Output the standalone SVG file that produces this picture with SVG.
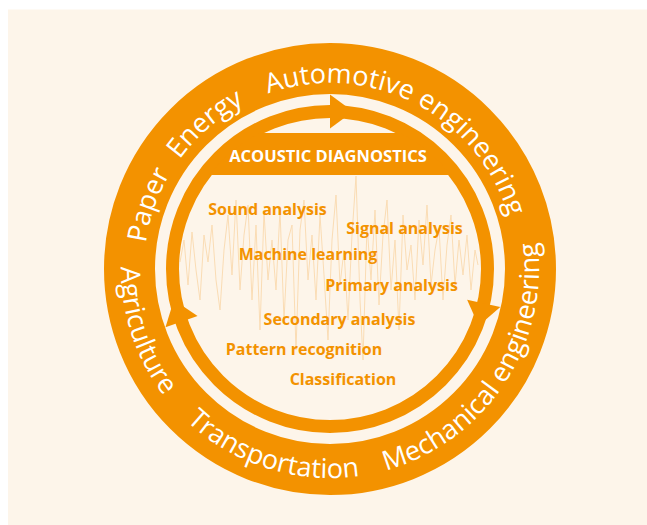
<svg xmlns="http://www.w3.org/2000/svg" xmlns:xlink="http://www.w3.org/1999/xlink" width="647" height="525" viewBox="0 0 647 525">
  <style>
    .ring { fill: none; stroke: #f39200; }
    .ringtext { font-family: "Open Sans", "Noto Sans", "DejaVu Sans", sans-serif; font-size: 27px; fill: #ffffff; font-weight: 400; }
    .label { font-family: "Open Sans", "Noto Sans", "DejaVu Sans", sans-serif; font-size: 16px; font-weight: 700; fill: #f39200; text-anchor: middle; }
    .banner-text { font-family: "Open Sans", "Noto Sans", "DejaVu Sans", sans-serif; font-size: 16.5px; font-weight: 700; fill: #ffffff; text-anchor: middle; }
    .wave { fill: none; stroke: #fadcb4; stroke-width: 1; stroke-linejoin: round; }
    .arrowhead { fill: #f39200; }
  </style>
  <defs>
    <path id="upperPath" d="M 144 269 A 186 186 0 1 1 516 269 A 186 186 0 1 1 144 269"/>
    <path id="lowerPath" d="M 133.6 197.5 A 209 209 0 1 0 526.4 340.5 A 209 209 0 1 0 133.6 197.5"/>
    <polygon id="arrow" points="330,94.5 353,111.5 330,128.5"/>
  </defs>

  <rect id="background" x="8" y="9.5" width="639" height="515.5" fill="#fdf5ea"/>

  <g id="waveform">
    <polyline class="wave" points="180,262 184,240 188,285 192,232 196,270 200,300 204,235 208,262 212,225 216,280 220,310 224,250 228,215 232,275 236,200 240,290 244,235 248,205 252,300 256,225 260,330 264,212 268,280 272,240 276,290 280,210 284,320 288,240 292,225 296,350 300,230 304,200 308,280 312,235 316,300 320,215 324,275 328,340 332,240 336,195 340,285 344,250 348,320 352,235 356,176 360,300 363,360 367,225 371,280 375,210 379,305 383,235 387,200 391,290 395,240 399,330 403,215 407,270 411,245 415,300 419,220 423,265 427,205 431,285 435,250 439,228 443,300 447,245 451,215 455,285 459,240 463,275 467,235 471,290 475,250 478,265"/>
  </g>

  <g id="outer-ring">
    <circle class="ring" cx="330" cy="269" r="200.5" stroke-width="51"/>
    <text class="ringtext" text-anchor="middle"><textPath xlink:href="#upperPath" href="#upperPath" startOffset="63">Paper</textPath></text>
    <text class="ringtext" text-anchor="middle"><textPath xlink:href="#upperPath" href="#upperPath" startOffset="160">Energy</textPath></text>
    <text class="ringtext" text-anchor="middle"><textPath xlink:href="#upperPath" href="#upperPath" startOffset="380">Automotive engineering</textPath></text>
    <text class="ringtext" text-anchor="middle"><textPath xlink:href="#lowerPath" href="#lowerPath" startOffset="140">Agriculture</textPath></text>
    <text class="ringtext" text-anchor="middle"><textPath xlink:href="#lowerPath" href="#lowerPath" startOffset="337">Transportation</textPath></text>
    <text class="ringtext" text-anchor="middle"><textPath xlink:href="#lowerPath" href="#lowerPath" startOffset="607">Mechanical engineering</textPath></text>
  </g>

  <g id="connectors">
    <circle class="ring" cx="330" cy="269" r="157.5" stroke-width="13"/>
    <use class="arrowhead" href="#arrow" xlink:href="#arrow"/>
    <use class="arrowhead" href="#arrow" xlink:href="#arrow" transform="rotate(102.6 330 269)"/>
    <use class="arrowhead" href="#arrow" xlink:href="#arrow" transform="rotate(250.5 330 269)"/>
  </g>

  <g id="acoustic-diagnostics">
    <path d="M 259.9 133 L 400.1 133 A 153 153 0 0 1 450.7 175 L 209.3 175 A 153 153 0 0 1 259.9 133 Z" fill="#f39200"/>
    <text class="banner-text" x="328" y="162">ACOUSTIC DIAGNOSTICS</text>
  </g>

  <g id="sound-analysis"><text class="label" x="267.5" y="215">Sound analysis</text></g>
  <g id="signal-analysis"><text class="label" x="404.5" y="234">Signal analysis</text></g>
  <g id="machine-learning"><text class="label" x="308" y="260">Machine learning</text></g>
  <g id="primary-analysis"><text class="label" x="391.5" y="291">Primary analysis</text></g>
  <g id="secondary-analysis"><text class="label" x="339.5" y="325">Secondary analysis</text></g>
  <g id="pattern-recognition"><text class="label" x="304" y="355">Pattern recognition</text></g>
  <g id="classification"><text class="label" x="343" y="385">Classification</text></g>
</svg>
